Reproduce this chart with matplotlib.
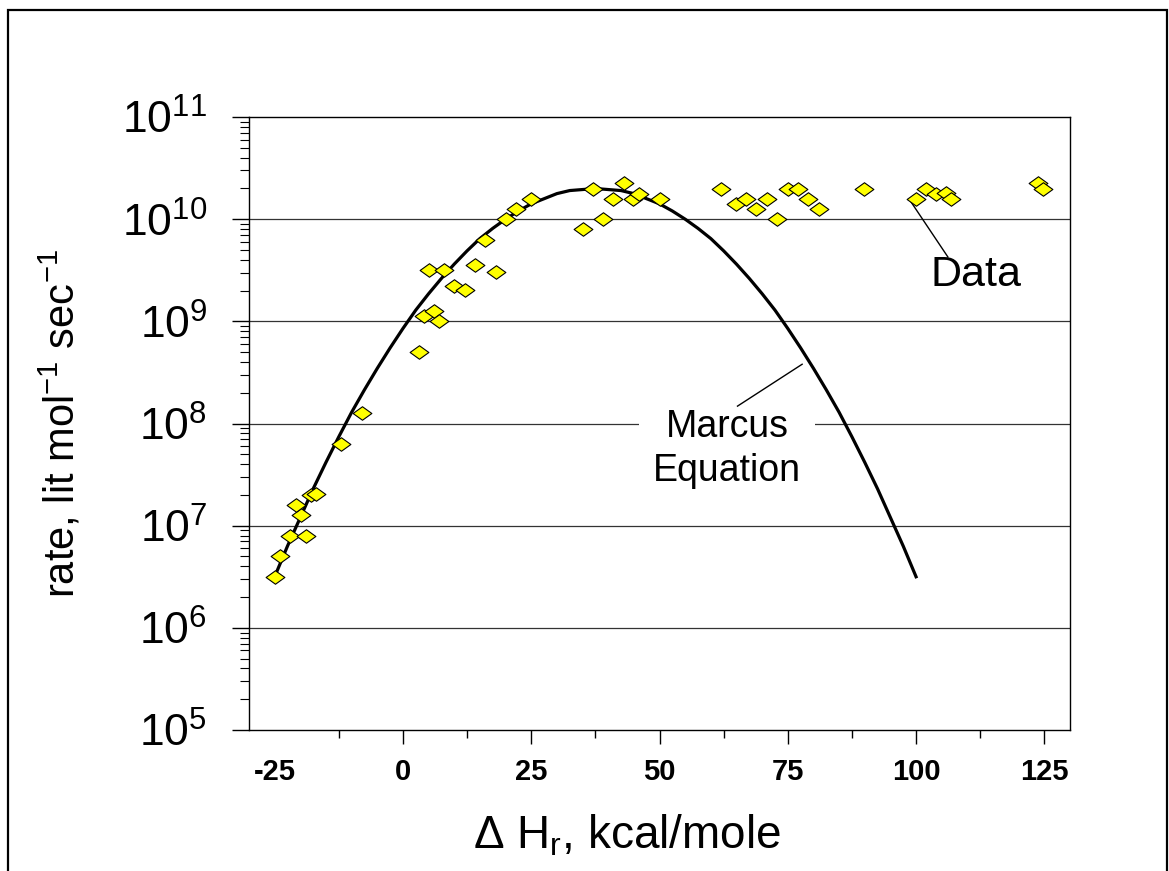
import matplotlib
matplotlib.use("Agg")
import matplotlib.pyplot as plt
import numpy as np
from matplotlib import font_manager
from matplotlib.path import Path
from matplotlib.patches import Rectangle
from matplotlib.ticker import FixedLocator, FixedFormatter, LogLocator, NullFormatter

# measured points: reaction enthalpy (kcal/mole) and log10 of the rate
data_dh = [-24.9, -23.9, -22.0, -18.9, -19.9, -20.9, -18.0, -16.9, -12.0, -7.9,
           3.05, 4.1, 6.1, 7.0, 5.1, 8.0, 9.9, 12.1, 14.0, 16.0, 18.1, 20.0,
           22.0, 25.0, 35.0, 37.0, 39.0, 41.0, 43.0, 44.8, 46.1, 50.0,
           61.9, 64.9, 66.9, 68.9, 70.9, 72.9, 75.0, 76.9, 79.0, 81.0, 89.9,
           99.9, 101.9, 103.8, 105.8, 106.9, 123.8, 124.8]
data_logk = [6.50, 6.70, 6.90, 6.90, 7.10, 7.20, 7.30, 7.31, 7.80, 8.10,
             8.70, 9.05, 9.10, 9.00, 9.50, 9.50, 9.35, 9.31, 9.55, 9.80, 9.48, 10.00,
             10.10, 10.20, 9.90, 10.30, 10.00, 10.20, 10.35, 10.20, 10.25, 10.20,
             10.30, 10.15, 10.20, 10.10, 10.20, 10.00, 10.30, 10.30, 10.20, 10.10, 10.30,
             10.20, 10.30, 10.25, 10.26, 10.20, 10.35, 10.30]

# Marcus equation curve
marcus_dh = [-25, -22.5, -20, -17.5, -15, -12.5, -10, -7.5, -5, -2.5, 0, 2.5, 5,
             7.5, 10, 12.5, 15, 17.5, 20, 22.5, 25, 27.5, 30, 32.5, 35, 37.5, 40,
             42.5, 45, 47.5, 50, 52.5, 55, 57.5, 60, 62.5, 65, 67.5, 70, 72.5, 75,
             77.5, 80, 82.5, 85, 87.5, 90, 92.5, 95, 97.5, 100]
marcus_logk = [6.50, 6.80, 7.08, 7.36, 7.62, 7.87, 8.11, 8.33, 8.54, 8.74, 8.93,
               9.11, 9.27, 9.42, 9.56, 9.69, 9.81, 9.91, 10.00, 10.08, 10.15, 10.20,
               10.25, 10.28, 10.29, 10.30, 10.29, 10.28, 10.25, 10.20, 10.15, 10.08,
               10.00, 9.91, 9.81, 9.69, 9.56, 9.42, 9.27, 9.11, 8.93, 8.74, 8.54,
               8.33, 8.11, 7.87, 7.62, 7.36, 7.08, 6.80, 6.50]

x_ticks = [-25, 0, 25, 50, 75, 100, 125]
x_minor = [-12.5, 12.5, 37.5, 62.5, 87.5, 112.5]
y_exponents = [5, 6, 7, 8, 9, 10, 11]

names = {f.name for f in font_manager.fontManager.ttflist}
SANS = "Liberation Sans" if "Liberation Sans" in names else "DejaVu Sans"
NARROW = "Liberation Sans Narrow" if "Liberation Sans Narrow" in names else SANS
plt.rcParams["font.family"] = [SANS, "DejaVu Sans"]

fig = plt.figure(figsize=(11.69, 8.71), dpi=100)
ax = fig.add_axes([249 / 1169, 1 - 730 / 871, 821 / 1169, 613 / 871])

ax.set_yscale("log")
ax.set_xlim(-30, 130)
ax.set_ylim(10.0 ** 5, 10.0 ** 11)

# horizontal grid at each decade
for e in y_exponents[1:-1]:
    ax.axhline(10.0 ** e, color="0.2", lw=0.9, zorder=1)

ax.plot(marcus_dh, 10.0 ** np.array(marcus_logk), color="black", lw=2.3, zorder=4)

diamond = Path([(-1, 0), (0, 0.72), (1, 0), (0, -0.72), (-1, 0)],
               [Path.MOVETO, Path.LINETO, Path.LINETO, Path.LINETO, Path.CLOSEPOLY])
ax.plot(data_dh, 10.0 ** np.array(data_logk), linestyle="none", marker=diamond,
        markersize=13.5, markerfacecolor="#ffff00", markeredgecolor="black",
        markeredgewidth=0.8, zorder=5)

# annotations
ax.text(63.2, 10 ** 7.75, "Marcus\nEquation", ha="center", va="center",
        fontsize=27, linespacing=1.3, zorder=3,
        bbox=dict(facecolor="white", edgecolor="none", pad=10))
ax.plot([65.2, 77.8], [10 ** 8.17, 10 ** 8.58], color="black", lw=1.0, zorder=3)
ax.text(111.7, 10 ** 9.45, "Data", ha="center", va="center", fontsize=31, zorder=3)
ax.plot([99.0, 106.2], [10 ** 10.17, 10 ** 9.63], color="black", lw=1.0, zorder=3)

# ticks
ax.xaxis.set_major_locator(FixedLocator(x_ticks))
ax.xaxis.set_minor_locator(FixedLocator(x_minor))
ax.set_xticklabels([str(t) for t in x_ticks])
ax.tick_params(axis="x", which="major", direction="out", length=10, width=1,
               pad=10, labelsize=21)
ax.tick_params(axis="x", which="minor", direction="out", length=6, width=1)
for lab in ax.get_xticklabels():
    lab.set_fontweight("bold")
ax.xaxis.get_major_ticks()[0].tick1line.set_visible(False)

ax.yaxis.set_major_locator(FixedLocator([10.0 ** e for e in y_exponents]))
ax.yaxis.set_major_formatter(FixedFormatter(
    [r"$\mathregular{10^{%d}}$" % e for e in y_exponents]))
ax.yaxis.set_minor_locator(LogLocator(base=10, subs=np.arange(2, 10), numticks=20))
ax.yaxis.set_minor_formatter(NullFormatter())
ax.tick_params(axis="y", which="major", direction="out", length=12, width=1,
               pad=18, labelsize=32)
ax.tick_params(axis="y", which="minor", direction="out", length=6.5, width=0.8)

for s in ax.spines.values():
    s.set_linewidth(1.0)

ax.set_xlabel(r"Δ H$_{\mathregular{r}}$, kcal/mole", fontsize=33)
ax.xaxis.set_label_coords(0.46, -0.135)
ax.set_ylabel(r"rate, lit mol$^{\mathregular{-1}}$ sec$^{\mathregular{-1}}$",
              fontsize=30, family=[NARROW, "DejaVu Sans"], va="center")
ax.yaxis.set_label_coords(-0.229, 0.5)

# page border
fig.add_artist(Rectangle((8 / 1169, -0.05), 1159 / 1169, 1.05 - 10 / 871,
                         transform=fig.transFigure, fill=False,
                         edgecolor="black", lw=1.6))

fig.savefig("out.png", dpi=100)
